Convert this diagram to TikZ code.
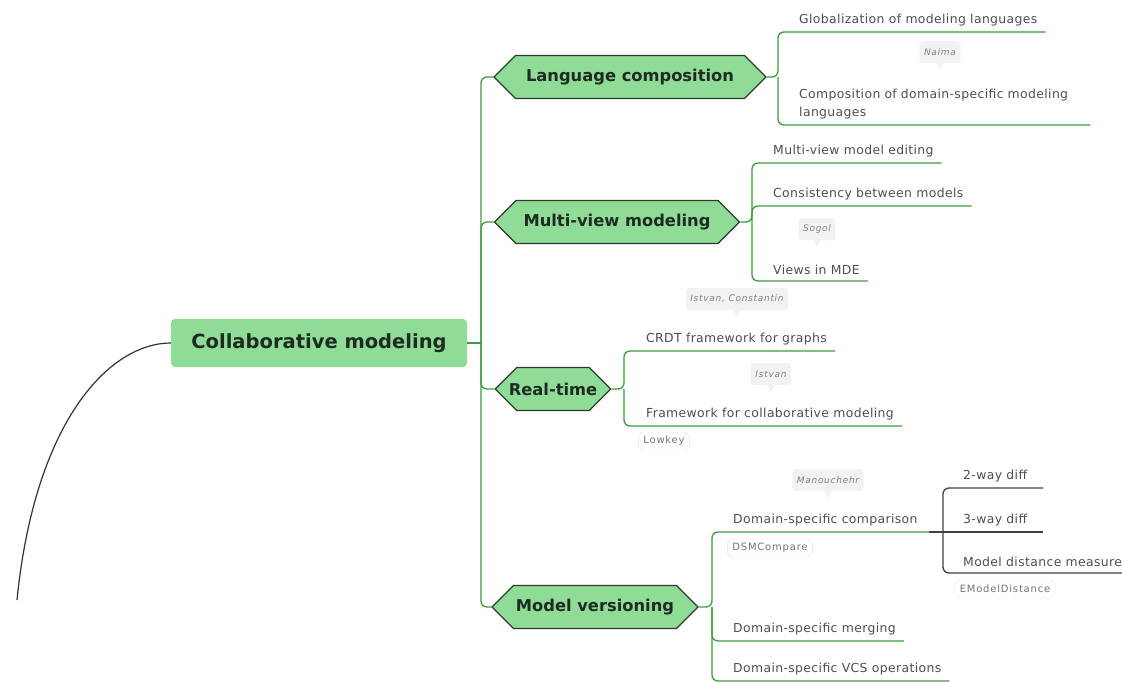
\documentclass[tikz,border=0pt]{standalone}
\usepackage{fontspec}
\setmainfont{DejaVu Sans}
\usetikzlibrary{shapes.symbols,shapes.callouts,calc}
\definecolor{leaf}{HTML}{8EDC95}
\definecolor{edge}{HTML}{3E9B3E}
\definecolor{hexline}{HTML}{2E3A2E}
\definecolor{ink}{HTML}{1E2A22}
\definecolor{txt}{HTML}{4E4E4E}
\tikzset{
  rootbox/.style={rectangle, rounded corners=4pt, fill=leaf, minimum width=296pt,
    minimum height=48pt, font=\fontsize{19.5}{23}\selectfont\bfseries, text=ink},
  hexbox/.style={signal, signal to=west and east, fill=leaf, draw=hexline,
    line width=1.2pt, minimum height=43pt, inner xsep=1pt,
    font=\fontsize{16.3}{19}\selectfont\bfseries, text=ink},
  item/.style={anchor=south west, inner xsep=0pt, inner ysep=6pt,
    font=\fontsize{12.4}{18}\selectfont\addfontfeatures{LetterSpace=3}, text=txt, align=left},
  branch/.style={draw=edge, line width=1.3pt, rounded corners=6pt},
  subbranch/.style={draw=black!75, line width=1.3pt, rounded corners=6pt},
  note/.style={rectangle callout, callout relative pointer={(0pt,-8pt)},
    fill=black!5, rounded corners=3pt, minimum height=22pt, inner xsep=4.5pt,
    font=\fontsize{9}{10}\selectfont\itshape\addfontfeatures{LetterSpace=8}, text=black!50},
  tag/.style={rectangle, draw=black!10, fill=white, rounded corners=6pt,
    minimum height=18pt, inner xsep=5pt,
    font=\fontsize{10}{11}\selectfont\addfontfeatures{LetterSpace=8}, text=black!55},
}
\begin{document}
\begin{tikzpicture}[x=1pt, y=-1pt]
\useasboundingbox (0,0) rectangle (1122,682);

% central topic and its tail
\node[rootbox] (root) at (319,343) {Collaborative modeling};
\coordinate (tail) at (17,600);
\draw[black!80, line width=1.2pt] (root.west) .. controls (110,343) and (35,420) .. (tail);

% main topics
\node[hexbox, minimum width=272pt] (lc) at (630,77) {Language composition};
\node[hexbox, minimum width=245pt] (mv) at (617,222) {Multi-view modeling};
\node[hexbox, inner xsep=-8pt] (rt) at (553,389) {Real-time};
\node[hexbox, minimum width=206pt] (mvs) at (595,607) {Model versioning};

\coordinate (trunk) at (481,343);
\draw[branch] (root.east) -- (trunk);
\draw[branch] (lc.west) -| (trunk);
\draw[branch] (mv.west) -| (trunk);
\draw[branch] (rt.west) -| (trunk);
\draw[branch] (mvs.west) -| (trunk);

% Language composition
\coordinate (lcb) at (778,77);
\node[item] (g1) at (799,32) {Globalization of modeling languages};
\node[item, text width=282pt] (g2) at (799,125) {Composition of domain-specific modeling\\languages};
\draw[branch] (lc.east) -- (lcb) |- ($(g1.south east)+(8,0)$);
\draw[branch] (lcb) |- ($(g2.south east)+(9,0)$);
\node[note] (n1) at (940,52) {Naima};

% Multi-view modeling
\coordinate (mvb) at (752,222);
\node[item] (m1) at (773,163) {Multi-view model editing};
\node[item] (m2) at (773,206) {Consistency between models};
\node[item] (m3) at (773,281) {Views in MDE};
\draw[branch] (mv.east) -- (mvb) |- ($(m1.south east)+(8,0)$);
\draw[branch] (mvb) |- ($(m2.south east)+(8,0)$);
\draw[branch] (mvb) |- ($(m3.south east)+(8,0)$);
\node[note] (n2) at (817,229) {Sogol};

% Real-time
\coordinate (rtb) at (624,389);
\node[item] (r1) at (646,351) {CRDT framework for graphs};
\node[item] (r2) at (646,426) {Framework for collaborative modeling};
\draw[branch] (rt.east) -- (rtb) |- ($(r1.south east)+(8,0)$);
\draw[branch] (rtb) |- ($(r2.south east)+(8,0)$);
\node[note] (n3) at (737,299) {Istvan, Constantin};
\node[note] (n4) at (771,374) {Istvan};
\node[tag] (t1) at (664,441) {Lowkey};

% Model versioning
\coordinate (mvsb) at (712,607);
\node[item] (v1) at (733,532) {Domain-specific comparison};
\node[item] (v2) at (733,641) {Domain-specific merging};
\node[item] (v3) at (733,681) {Domain-specific VCS operations};
\coordinate (v1end) at (929,532);
\draw[branch] (mvs.east) -- (mvsb) |- (v1end);
\draw[branch] (mvsb) |- ($(v2.south east)+(8,0)$);
\draw[branch] (mvsb) |- ($(v3.south east)+(8,0)$);
\node[note] (n5) at (828,480) {Manouchehr};
\node[tag] (t2) at (770,548) {DSMCompare};

% comparison sub-topics
\coordinate (sb) at (943,532);
\node[item] (w1) at (963,488) {2-way diff};
\node[item] (w2) at (963,532) {3-way diff};
\node[item] (w3) at (963,573) {Model distance measure};
\coordinate (w1end) at (1043,488);
\coordinate (w2end) at (1043,532);
\coordinate (w3end) at (1135,573);
\draw[subbranch] (v1end) -- (w2end);
\draw[subbranch] (sb) |- (w1end);
\draw[subbranch] (sb) |- (w3end);
\node[tag] (t3) at (1005,589) {EModelDistance};
\end{tikzpicture}
\end{document}
